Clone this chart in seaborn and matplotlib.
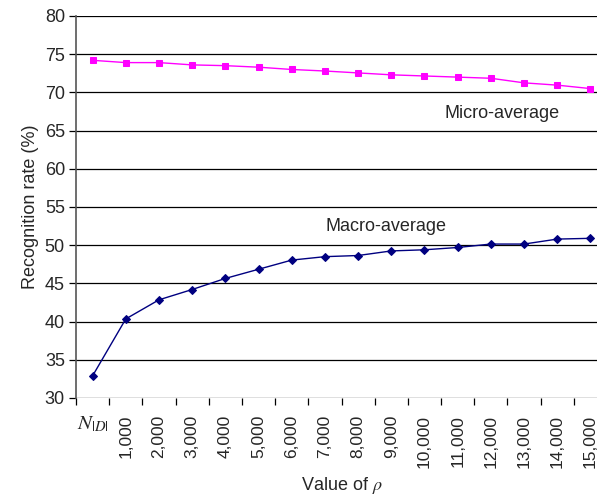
import matplotlib
matplotlib.use("Agg")
import matplotlib.pyplot as plt
import seaborn as sns
import numpy as np
import pandas as pd

categories = [r"$N_{|D|}$", "1,000", "2,000", "3,000", "4,000", "5,000", "6,000", "7,000",
              "8,000", "9,000", "10,000", "11,000", "12,000", "13,000", "14,000", "15,000"]
micro_avg = [74.2, 73.9, 73.9, 73.6, 73.5, 73.3, 73.0, 72.8,
             72.55, 72.3, 72.15, 72.0, 71.85, 71.25, 70.95, 70.5]
macro_avg = [32.9, 40.35, 42.85, 44.2, 45.65, 46.85, 48.05, 48.5,
             48.65, 49.25, 49.4, 49.7, 50.15, 50.15, 50.8, 50.9]
y_ticks = [30, 35, 40, 45, 50, 55, 60, 65, 70, 75, 80]

sns.set_theme(style="white")
plt.rcParams["font.family"] = ["Liberation Sans", "DejaVu Sans"]
plt.rcParams["mathtext.fontset"] = "stix"

df = pd.DataFrame({"pos": np.arange(len(categories)), "micro": micro_avg, "macro": macro_avg})

fig = plt.figure(figsize=(5.97, 4.98), dpi=100)
ax = fig.add_axes([76 / 597, 1 - 398 / 498, 531 / 597, 382 / 498])

for y in y_ticks:
    ax.axhline(y, color="#000000", lw=0.9, zorder=0)

sns.lineplot(data=df, x="pos", y="micro", ax=ax, color="#FF00FF", lw=1.0,
             marker="s", markersize=5, markeredgecolor="#FF00FF")
sns.lineplot(data=df, x="pos", y="macro", ax=ax, color="#000080", lw=1.0,
             marker="D", markersize=4.5, markeredgecolor="#000080")

ax.set_xlim(-0.5, len(categories) - 0.5)
ax.set_ylim(30, 80)
ax.set_yticks(y_ticks)
ax.tick_params(axis="y", direction="out", length=5, width=0.9, color="#000000",
               labelsize=13, pad=3, left=True)

ax.set_xticks(np.arange(len(categories)))
ax.set_xticklabels(categories, rotation=90, fontsize=12.5)
ax.set_xticks(np.arange(len(categories) + 1) - 0.5, minor=True)
ax.tick_params(axis="x", which="major", length=0, pad=12)
ax.tick_params(axis="x", which="minor", direction="out", length=5, width=0.9,
               color="#000000", bottom=True)
lbl0 = ax.get_xticklabels()[0]
lbl0.set_rotation(0)
lbl0.set_fontsize(15)
lbl0.set_va("top")

for side in ["top", "right", "bottom"]:
    ax.spines[side].set_visible(False)
ax.spines["left"].set_color("#555555")
ax.spines["left"].set_linewidth(1.2)

ax.set_xlabel(r"Value of $\rho$", fontsize=13)
ax.xaxis.set_label_coords(0.5, -0.228)
ax.xaxis.label.set_va("center")
ax.set_ylabel("Recognition rate (%)", fontsize=13, labelpad=4)

ax.text(12.35, 67.3, "Micro-average", fontsize=13, ha="center", va="center")
ax.text(8.85, 52.5, "Macro-average", fontsize=13, ha="center", va="center")

fig.savefig("out.png", dpi=100)
